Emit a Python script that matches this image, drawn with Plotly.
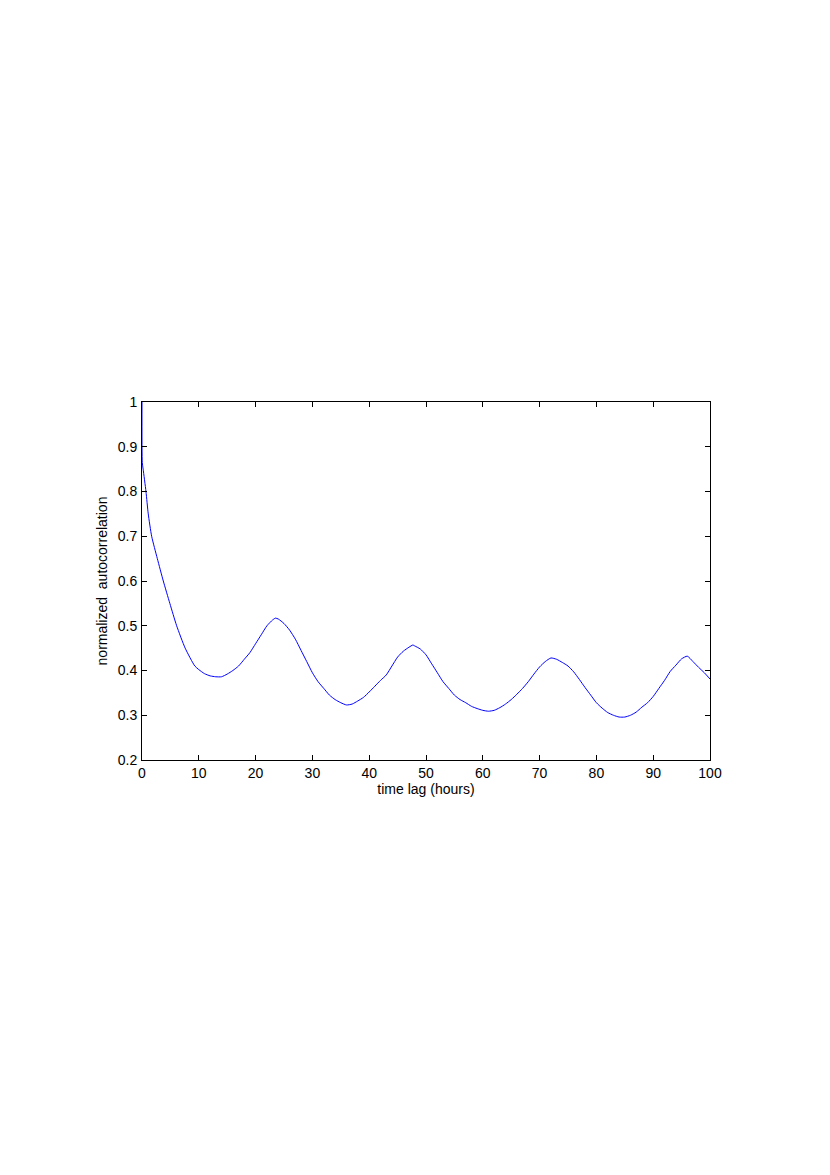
import plotly.graph_objects as go

# time lag (hours) and normalized autocorrelation
lag = [0, 0.05, 0.2, 0.7, 1.1, 1.7, 2.7, 3.75, 4.9, 6.1, 7.6, 9.3, 10, 11, 12, 13,
       14, 15, 16, 17, 18, 19, 20, 21, 22, 23, 23.5, 24, 25, 26, 27, 28, 29, 30,
       31, 32, 33, 34, 35, 36, 37, 38, 39, 40, 41, 42, 43, 44, 45, 46, 47, 47.7,
       48, 49, 50, 51, 52, 53, 54, 55, 56, 57, 58, 59, 60, 61, 62, 63, 64, 65,
       66, 67, 68, 69, 70, 71, 72, 73, 74, 75, 76, 77, 78, 79, 80, 81, 82, 83,
       84, 85, 86, 87, 88, 89, 90, 91, 92, 93, 94, 95, 96, 97, 98, 99, 100]
acorr = [1.0, 0.865, 0.85, 0.80, 0.75, 0.70, 0.65, 0.60, 0.55, 0.50, 0.45, 0.41,
         0.402, 0.393, 0.388, 0.386,
         0.386, 0.392, 0.40, 0.41, 0.425, 0.44, 0.46, 0.48, 0.50, 0.513, 0.517,
         0.515, 0.505, 0.49, 0.47, 0.445, 0.42, 0.395,
         0.375, 0.36, 0.345, 0.335, 0.328, 0.323, 0.325, 0.332, 0.34, 0.352,
         0.365, 0.378, 0.39, 0.41, 0.43, 0.443, 0.452, 0.457,
         0.455, 0.448, 0.435, 0.415, 0.395, 0.375, 0.36, 0.345, 0.335, 0.328,
         0.32, 0.315, 0.311, 0.309, 0.311, 0.317, 0.325, 0.335,
         0.347, 0.36, 0.375, 0.392, 0.408, 0.42, 0.428, 0.425, 0.418, 0.41,
         0.397, 0.38, 0.362, 0.345, 0.328, 0.316, 0.306, 0.300,
         0.296, 0.296, 0.300, 0.307, 0.318, 0.328, 0.342, 0.36, 0.378, 0.398,
         0.412, 0.426, 0.432, 0.42, 0.407, 0.395, 0.381]

xticks = [0, 10, 20, 30, 40, 50, 60, 70, 80, 90, 100]
yticks = [0.2, 0.3, 0.4, 0.5, 0.6, 0.7, 0.8, 0.9, 1]

fig = go.Figure()
fig.add_trace(go.Scatter(x=lag, y=acorr, mode="lines", line_shape="spline",
                         line=dict(color="#0000ff", width=1, smoothing=0.6),
                         showlegend=False))

axis_style = dict(showline=True, linecolor="black", linewidth=1, mirror="ticks",
                  ticks="inside", ticklen=5, tickcolor="black", showgrid=False,
                  zeroline=False, tickfont=dict(size=14, color="black"))

fig.update_xaxes(range=[0, 100], tickvals=xticks, ticklabelstandoff=0,
                 title=dict(text="time lag (hours)", font=dict(size=14, color="black"), standoff=0),
                 **axis_style)
fig.update_yaxes(range=[0.2, 1], tickvals=yticks, ticktext=[str(v) for v in yticks],
                 ticklabelstandoff=1,
                 title=dict(text="normalized  autocorrelation", font=dict(size=14, color="black"), standoff=6),
                 **axis_style)

# page body adds 8px, so margins are shifted by that much
fig.update_layout(width=830, height=1175,
                  margin=dict(l=134, r=128, t=394, b=423),
                  plot_bgcolor="white", paper_bgcolor="white",
                  font=dict(family="Liberation Sans, Arial, sans-serif"))

fig.write_html("out.html")
